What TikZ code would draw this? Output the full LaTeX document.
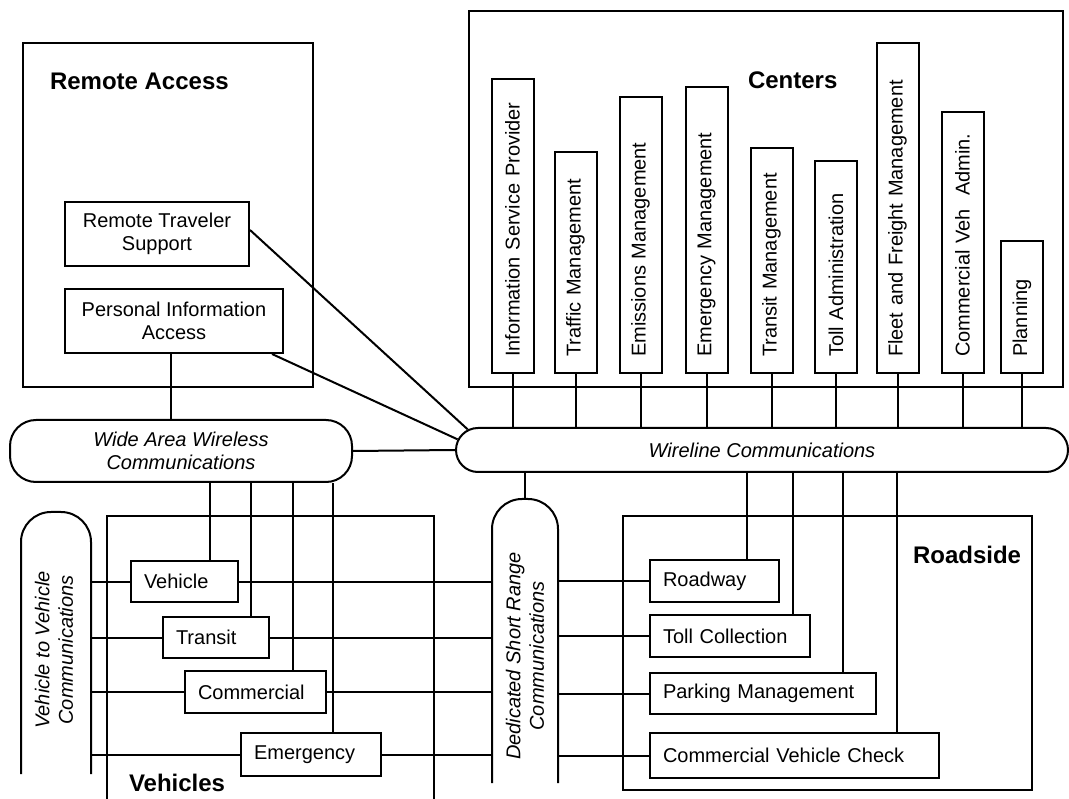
\documentclass[tikz,border=0pt]{standalone}
\usepackage{fontspec}
\setmainfont{Liberation Sans}
\usetikzlibrary{shapes.misc}
\newcommand{\unitfont}{\fontsize{20}{23}\selectfont}
\newcommand{\commfont}{\fontsize{20}{23.5}\selectfont\itshape}
\newcommand{\headfont}{\fontsize{24}{28}\selectfont\bfseries}
\begin{document}
\begin{tikzpicture}[x=1pt,y=-1pt,line width=2pt,
    grouping/.style={draw,line width=1.7pt,inner sep=0pt},
    heading/.style={anchor=west,inner sep=0pt,font=\headfont},
    subsys/.style={draw,inner xsep=13pt,inner ysep=0pt,align=left,font=\unitfont},
    remotesys/.style={draw,inner sep=0pt,align=center,font=\unitfont,minimum height=64pt},
    centersys/.style={draw,rotate=90,anchor=west,inner xsep=16pt,inner ysep=0pt,minimum height=42pt,align=left,font=\unitfont},
    comm/.style={inner sep=0pt,align=center,font=\commfont},
    holder/.style={inner sep=0pt}
]
\useasboundingbox (0,0) rectangle (1069,799);

\node[grouping,minimum width=290pt,minimum height=344pt] (remote) at (168,215) {};
\node[heading] (remotetitle) at (49,81) {Remote Access};
\node[remotesys,minimum width=184pt] (rts) at (157,234) {Remote Traveler\\Support};
\node[remotesys,minimum width=218pt] (pia) at (174,321) {Personal Information\\Access};

\node[grouping,minimum width=594pt,minimum height=376pt] (centers) at (766,199) {};
\node[heading] (centerstitle) at (747,80) {Centers};
\node[centersys,text width=262pt] (isp)         at (512.5,374) {Information Service Provider};
\node[centersys,text width=189pt] (traffic)     at (575.5,374) {Traffic Management};
\node[centersys,text width=244pt] (emissions)   at (640.5,374) {Emissions Management};
\node[centersys,text width=254pt] (emergmgmt)   at (706.5,374) {Emergency Management};
\node[centersys,text width=193pt] (transitmgmt) at (771.5,374) {Transit Management};
\node[centersys,text width=180pt] (tolladmin)   at (836,374)   {Toll Administration};
\node[centersys,text width=298pt] (fleet)       at (897.5,374) {Fleet and Freight Management};
\node[centersys,text width=229pt] (cvadmin)     at (962.5,374) {Commercial Veh~ Admin.};
\node[centersys,text width=100pt] (planning)    at (1022,374)  {Planning};

\node[draw,rounded rectangle,minimum width=612pt,minimum height=44pt,comm] (wire) at (762,450) {Wireline Communications};
\node[draw,rounded corners=26pt,minimum width=342pt,minimum height=62pt,comm] (wide) at (181,451) {Wide Area Wireless\\Communications};

\node[holder,minimum width=68pt,minimum height=260pt] (v2v) at (56,643) {};
\node[comm,rotate=90] (v2vtext) at (54,650) {Vehicle to Vehicle\\Communications};
\draw[rounded corners=30pt] (v2v.south west) -- (v2v.north west) -- (v2v.north east) -- (v2v.south east);

\node[holder,minimum width=64pt,minimum height=282pt] (dsrc) at (525,641) {};
\node[comm,rotate=90] (dsrctext) at (525,656) {Dedicated Short Range\\Communications};
\draw[rounded corners=30pt] (dsrc.south west) -- (dsrc.north west) -- (dsrc.north east) -- (dsrc.south east);

\node[holder,minimum width=325pt,minimum height=282pt] (vehicles) at (270.5,658) {};
\draw[line width=1.7pt] (vehicles.south west) -- (vehicles.north west) -- (vehicles.north east) -- (vehicles.south east);
\node[heading] (vehiclestitle) at (128,783) {Vehicles};
\node[subsys,text width=81pt,minimum height=41pt]  (vehicle)    at (184.5,581.5) {Vehicle};
\node[subsys,text width=80pt,minimum height=41pt]  (transit)    at (216,637.5)   {Transit};
\node[subsys,text width=115pt,minimum height=42pt] (commercial) at (255.5,692)   {Commercial};
\node[subsys,text width=114pt,minimum height=43pt] (emergency)  at (311,754.5)   {Emergency};

\node[grouping,minimum width=409pt,minimum height=274pt] (roadside) at (827.5,653) {};
\node[heading] (roadsidetitle) at (912,555) {Roadside};
\node[subsys,text width=103pt,minimum height=42pt] (roadway) at (714.5,581)  {Roadway};
\node[subsys,text width=134pt,minimum height=42pt] (toll)    at (730,636)    {Toll Collection};
\node[subsys,text width=200pt,minimum height=41pt] (parking) at (763,693.5)  {Parking Management};
\node[subsys,text width=263pt,minimum height=45pt] (cvcheck) at (794.5,755.5) {Commercial Vehicle Check};

\draw ([yshift=4pt]rts.east) -- (wire.176);
\draw ([xshift=-12pt]pia.south east) -- (wire.178);
\draw ([xshift=-3pt]pia.south) -- ([xshift=-3pt]pia.south |- wide.north);
\draw (wide.east) -- (wire.west);

\draw (isp.west) -- (isp.west |- wire.north);
\draw (traffic.west) -- (traffic.west |- wire.north);
\draw (emissions.west) -- (emissions.west |- wire.north);
\draw (emergmgmt.west) -- (emergmgmt.west |- wire.north);
\draw (transitmgmt.west) -- (transitmgmt.west |- wire.north);
\draw (tolladmin.west) -- (tolladmin.west |- wire.north);
\draw (fleet.west) -- (fleet.west |- wire.north);
\draw (cvadmin.west) -- (cvadmin.west |- wire.north);
\draw (planning.west) -- (planning.west |- wire.north);

\draw ([xshift=25.5pt]vehicle.north) -- ([xshift=25.5pt]vehicle.north |- wide.south);
\draw ([xshift=35pt]transit.north) -- ([xshift=35pt]transit.north |- wide.south);
\draw ([xshift=37.5pt]commercial.north) -- ([xshift=37.5pt]commercial.north |- wide.south);
\draw ([xshift=22pt]emergency.north) -- ([xshift=22pt]emergency.north |- wide.south);

\draw (vehicle.west -| v2v.east) -- (vehicle.west);
\draw (transit.west -| v2v.east) -- (transit.west);
\draw (commercial.west -| v2v.east) -- (commercial.west);
\draw (emergency.west -| v2v.east) -- (emergency.west);
\draw (vehicle.east) -- (vehicle.east -| dsrc.west);
\draw (transit.east) -- (transit.east -| dsrc.west);
\draw (commercial.east) -- (commercial.east -| dsrc.west);
\draw (emergency.east) -- (emergency.east -| dsrc.west);

\draw (dsrc.north) -- (dsrc.north |- wire.south);
\draw (roadway.west -| dsrc.east) -- (roadway.west);
\draw (toll.west -| dsrc.east) -- (toll.west);
\draw (parking.west -| dsrc.east) -- (parking.west);
\draw (cvcheck.west -| dsrc.east) -- (cvcheck.west);

\draw ([xshift=32.5pt]roadway.north) -- ([xshift=32.5pt]roadway.north |- wire.south);
\draw ([xshift=63pt]toll.north) -- ([xshift=63pt]toll.north |- wire.south);
\draw ([xshift=80pt]parking.north) -- ([xshift=80pt]parking.north |- wire.south);
\draw ([xshift=102.5pt]cvcheck.north) -- ([xshift=102.5pt]cvcheck.north |- wire.south);
\end{tikzpicture}
\end{document}
